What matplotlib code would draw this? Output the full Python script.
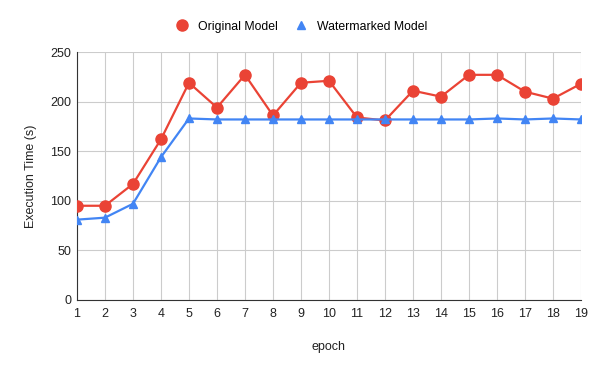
import numpy as np
import matplotlib.pyplot as plt

plt.rcParams['font.family'] = ['Liberation Sans', 'DejaVu Sans']

# data
epochs = list(range(1, 20))
original = [95, 95, 117, 162, 219, 194, 227, 186, 219, 221,
            184, 181, 211, 205, 227, 227, 210, 203, 218]
watermarked = [81, 83, 97, 144, 183, 182, 182, 182, 182, 182,
               182, 182, 182, 182, 182, 183, 182, 183, 182]

red = '#ea4335'
blue = '#4285f4'

fig = plt.figure(figsize=(6, 3.71), dpi=100)
ax = fig.add_axes([0.1283, 0.1914, 0.84, 0.6684])

ax.plot(epochs, original, color=red, lw=1.6, marker='o', ms=8,
        label='Original Model', zorder=3)
ax.plot(epochs, watermarked, color=blue, lw=1.6, marker='^', ms=6,
        label='Watermarked Model', zorder=3)

ax.set_xlim(1, 19)
ax.set_ylim(0, 250)
ax.set_xticks(epochs)
ax.set_yticks(np.arange(0, 251, 50))
ax.grid(True, color='#cccccc', lw=0.8)
ax.set_axisbelow(True)
for s in ['top', 'right']:
    ax.spines[s].set_visible(False)
ax.spines['left'].set_color('#333333')
ax.spines['bottom'].set_color('#333333')
ax.tick_params(length=0, labelsize=9, colors='#222222', pad=6)
ax.tick_params(axis='y', pad=4)

ax.set_xlabel('epoch', fontsize=9, color='#222222', labelpad=15)
ax.set_ylabel('Execution Time (s)', fontsize=9, color='#222222', labelpad=10)

fig.legend(loc='center', bbox_to_anchor=(0.503, 0.928), ncol=2, frameon=False,
           prop={'size': 8.8}, handlelength=1.0, columnspacing=1.4,
           handletextpad=0.8)
leg = fig.legends[0]
for h in leg.legend_handles:
    h.set_linestyle('none')

fig.savefig('out.png', dpi=100)
